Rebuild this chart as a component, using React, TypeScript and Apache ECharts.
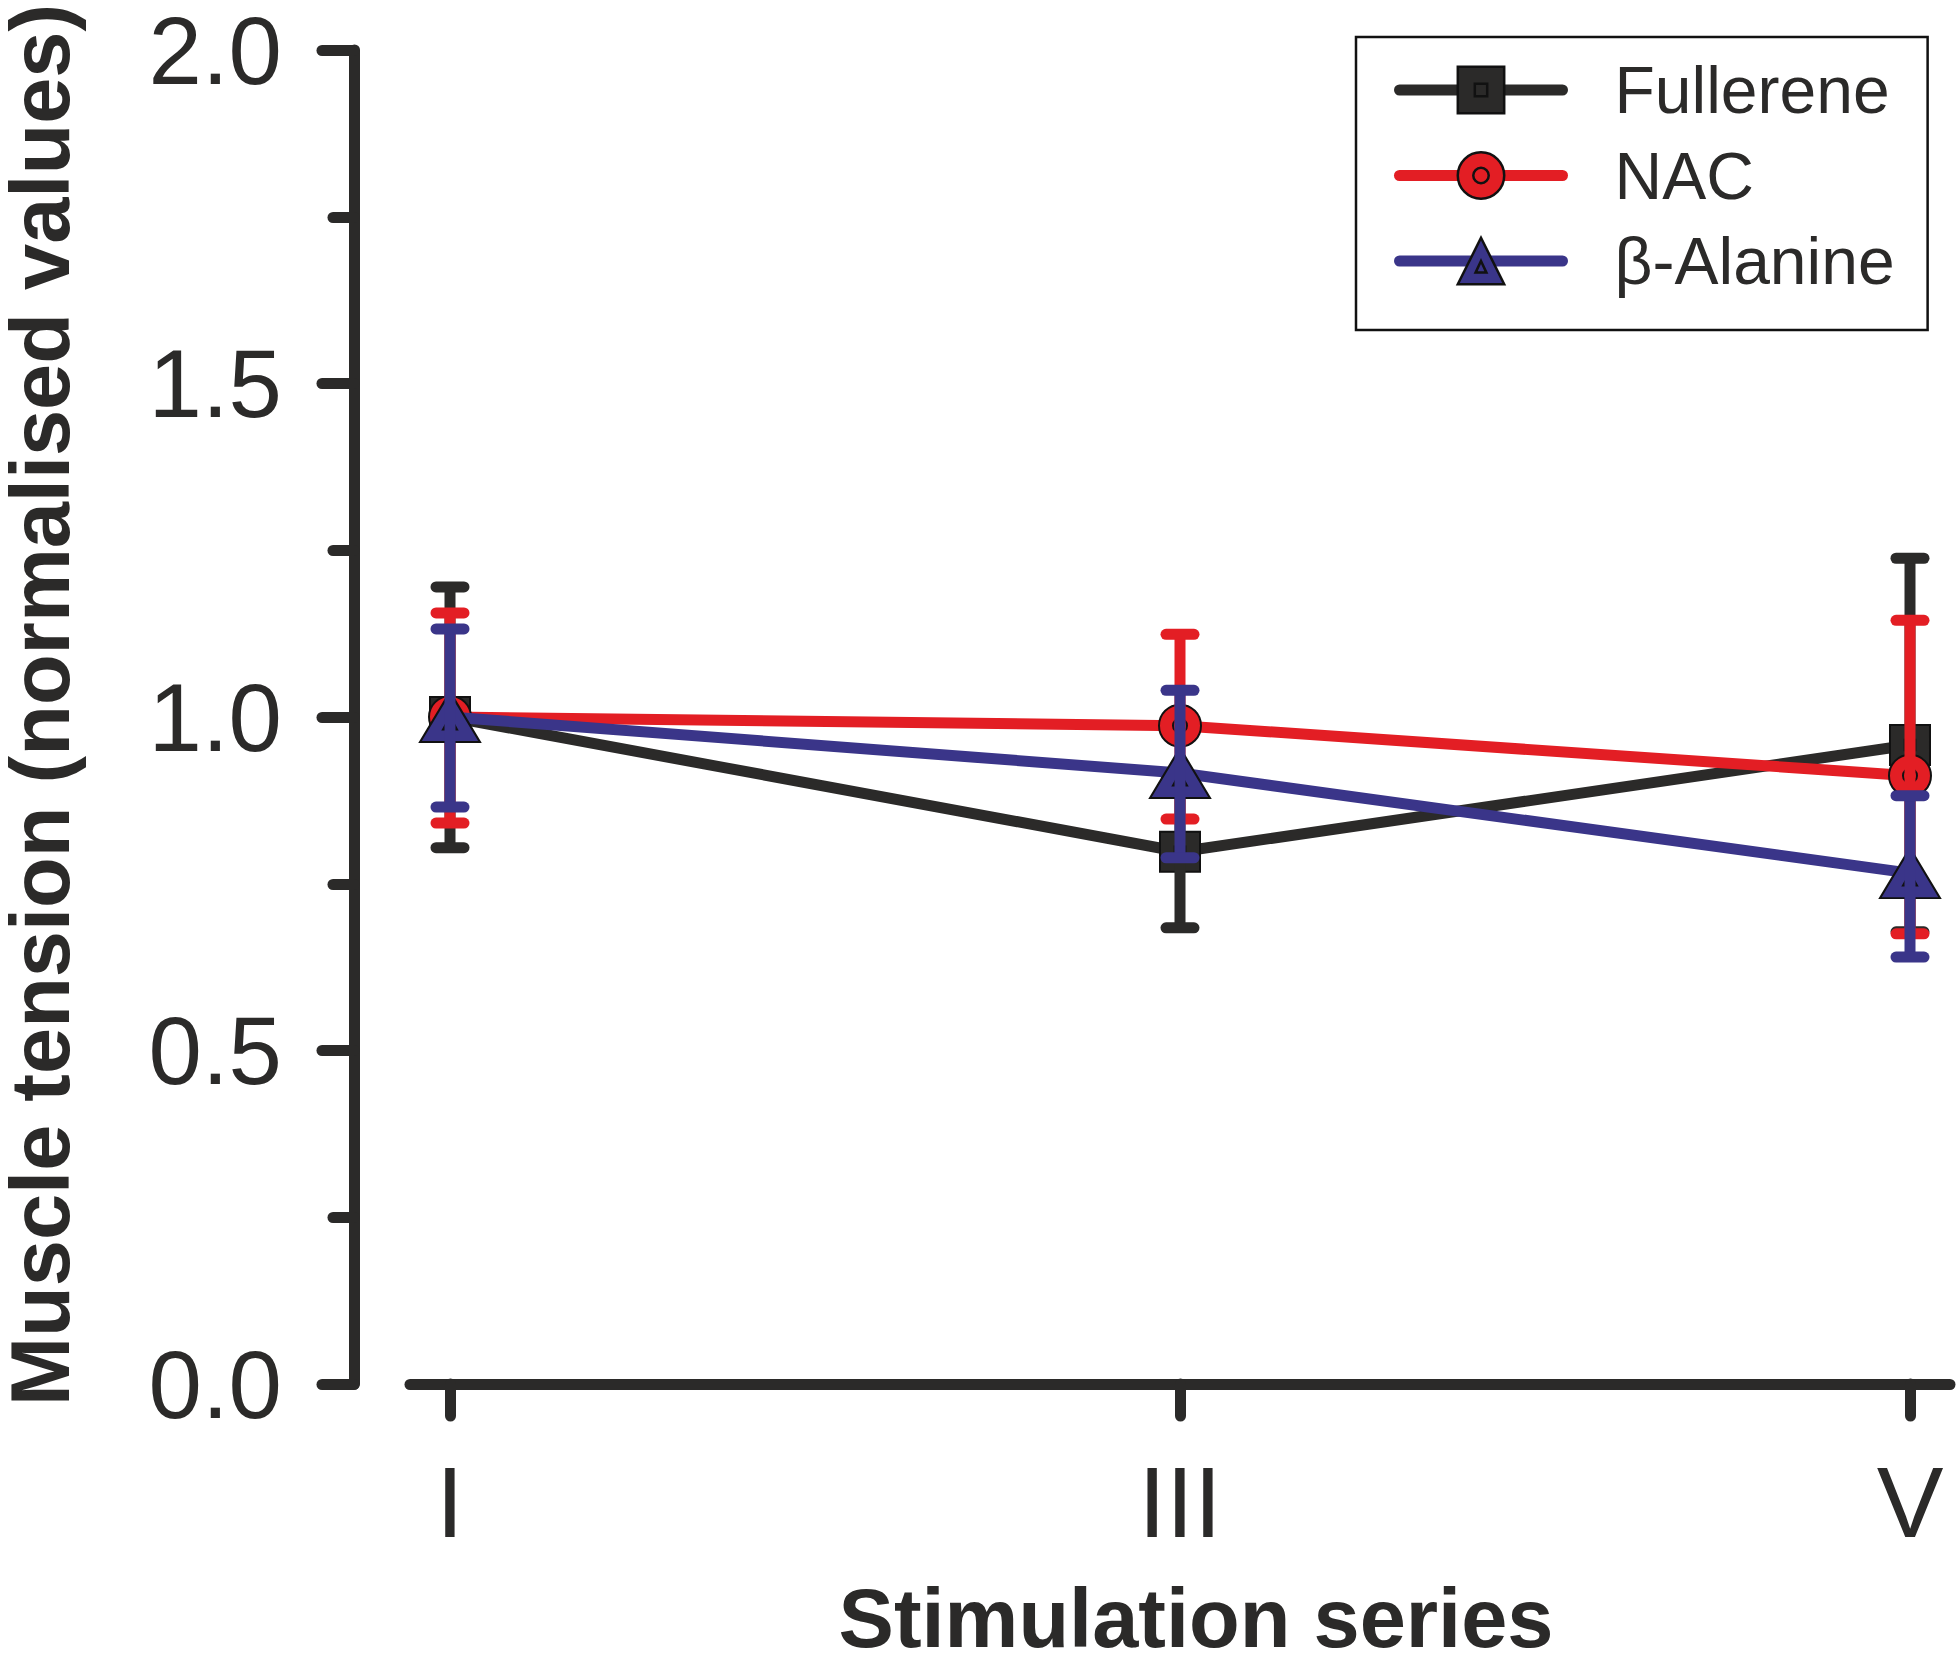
import { useEffect, useRef } from 'react';
import * as echarts from 'echarts';

const categories = ['I', 'III', 'V'];
const seriesNames = ['Fullerene', 'NAC', 'β-Alanine'];

const fullereneMean = [1.0, 0.798, 0.958];
const fullereneLow = [0.804, 0.684, 0.678];
const fullereneHigh = [1.195, 0.912, 1.238];

const nacMean = [1.0, 0.987, 0.912];
const nacLow = [0.841, 0.847, 0.675];
const nacHigh = [1.156, 1.124, 1.145];

const alanineMean = [1.0, 0.916, 0.766];
const alanineLow = [0.865, 0.789, 0.64];
const alanineHigh = [1.132, 1.04, 0.882];

const yTicks = [0, 0.5, 1.0, 1.5, 2.0];

const ink = '#2b2a29';
const colors = ['#2b2a29', '#e31e24', '#3a3589'];

// marker shapes with a small outlined shape inside
const squareSymbol = 'path://M0,0H30V30H0Z M11,11H19V19H11Z';
const circleSymbol = 'path://M15,0A15,15 0 1,1 15,30A15,15 0 1,1 15,0Z M15,10A5,5 0 1,1 15,20A5,5 0 1,1 15,10Z';
const triangleSymbol = 'path://M15,0L30,26H0Z M15,13L18.5,19.5H11.5Z';

function lineSeries(name: string, values: number[], color: string, symbol: string, size: number | number[], z: number) {
  return {
    type: 'line',
    name,
    z,
    data: values.map((v, i) => [i, v]),
    symbol,
    symbolSize: size,
    lineStyle: { color, width: 11, cap: 'round' },
    itemStyle: { color, borderColor: '#111', borderWidth: 2 },
  };
}

function errorSeries(name: string, low: number[], high: number[], color: string, z: number) {
  return {
    type: 'custom',
    name,
    z,
    silent: true,
    data: low.map((lo, i) => [i, lo, high[i]]),
    encode: { x: 0, y: [1, 2] },
    renderItem: (_params: any, api: any) => {
      const x = api.value(0);
      const top = api.coord([x, api.value(2)]);
      const bottom = api.coord([x, api.value(1)]);
      const half = 14;
      const capStyle = { stroke: color, lineWidth: 11, lineCap: 'round' };
      return {
        type: 'group',
        children: [
          {
            type: 'line',
            shape: { x1: top[0], y1: top[1], x2: bottom[0], y2: bottom[1] },
            style: { stroke: color, lineWidth: 11 },
          },
          {
            type: 'line',
            shape: { x1: top[0] - half, y1: top[1], x2: top[0] + half, y2: top[1] },
            style: capStyle,
          },
          {
            type: 'line',
            shape: { x1: bottom[0] - half, y1: bottom[1], x2: bottom[0] + half, y2: bottom[1] },
            style: capStyle,
          },
        ],
      };
    },
  };
}

export default function App() {
  const chartRef = useRef<HTMLDivElement>(null);

  useEffect(() => {
    if (!chartRef.current) return;
    document.body.style.margin = '0';
    const chart = echarts.init(chartRef.current, null, { renderer: 'svg' });

    chart.setOption({
      animation: false,
      backgroundColor: '#ffffff',
      grid: { left: 410, right: 10, top: 50, bottom: 276, outerBoundsMode: 'none' },
      legend: {
        data: seriesNames,
        orient: 'vertical',
        left: 1356,
        top: 37,
        padding: [20, 33, 36, 38],
        itemWidth: 163,
        itemHeight: 58,
        itemGap: 19.5,
        borderColor: '#111',
        borderWidth: 2.5,
        lineStyle: { width: 11 },
        itemStyle: { borderWidth: 2.5, borderColor: '#111' },
        textStyle: {
          fontFamily: 'Liberation Sans',
          fontSize: 66,
          lineHeight: 58,
          color: ink,
          padding: [0, 0, 0, 47],
        },
      },
      xAxis: {
        type: 'value',
        min: -0.0548,
        max: 2.0548,
        name: 'Stimulation series',
        nameLocation: 'middle',
        nameGap: 204,
        nameMoveOverlap: false,
        nameTextStyle: {
          fontFamily: 'Liberation Sans',
          fontWeight: 'bold',
          fontSize: 83,
          lineHeight: 60,
          color: ink,
          padding: [0, 0, 0, 32],
        },
        axisLine: { onZero: false, lineStyle: { color: ink, width: 11, cap: 'round' } },
        axisTick: {
          customValues: categories.map((_, i) => i),
          length: 32,
          lineStyle: { color: ink, width: 11, cap: 'round' },
        },
        axisLabel: {
          customValues: categories.map((_, i) => i),
          formatter: (v: number) => categories[Math.round(v)] ?? '',
          margin: 68,
          fontFamily: 'Liberation Sans',
          fontSize: 100,
          color: ink,
        },
        splitLine: { show: false },
      },
      yAxis: {
        type: 'value',
        min: 0,
        max: 2,
        interval: 0.5,
        offset: 56,
        name: 'Muscle tension (normalised values)',
        nameLocation: 'middle',
        nameGap: 284,
        nameMoveOverlap: false,
        nameTextStyle: {
          fontFamily: 'Liberation Sans',
          fontWeight: 'bold',
          fontSize: 83,
          lineHeight: 60,
          color: ink,
          padding: [0, 0, 0, 24],
        },
        axisLine: { show: true, onZero: false, lineStyle: { color: ink, width: 11, cap: 'round' } },
        axisTick: { show: true, length: 32, lineStyle: { color: ink, width: 11, cap: 'round' } },
        minorTick: { show: true, splitNumber: 2, length: 21, lineStyle: { color: ink, width: 11, cap: 'round' } },
        axisLabel: {
          formatter: (v: number) => (yTicks.includes(v) ? v.toFixed(1) : ''),
          margin: 72,
          fontFamily: 'Liberation Sans',
          fontSize: 96,
          lineHeight: 80,
          color: ink,
        },
        splitLine: { show: false },
      },
      series: [
        lineSeries(seriesNames[0], fullereneMean, colors[0], squareSymbol, 40, 2),
        errorSeries('Fullerene SE', fullereneLow, fullereneHigh, colors[0], 3),
        lineSeries(seriesNames[1], nacMean, colors[1], circleSymbol, 42, 4),
        errorSeries('NAC SE', nacLow, nacHigh, colors[1], 5),
        lineSeries(seriesNames[2], alanineMean, colors[2], triangleSymbol, [60, 50], 6),
        errorSeries('β-Alanine SE', alanineLow, alanineHigh, colors[2], 7),
      ],
    });

    return () => {
      chart.dispose();
    };
  }, []);

  return <div ref={chartRef} style={{ width: 1960, height: 1660 }} />;
}
